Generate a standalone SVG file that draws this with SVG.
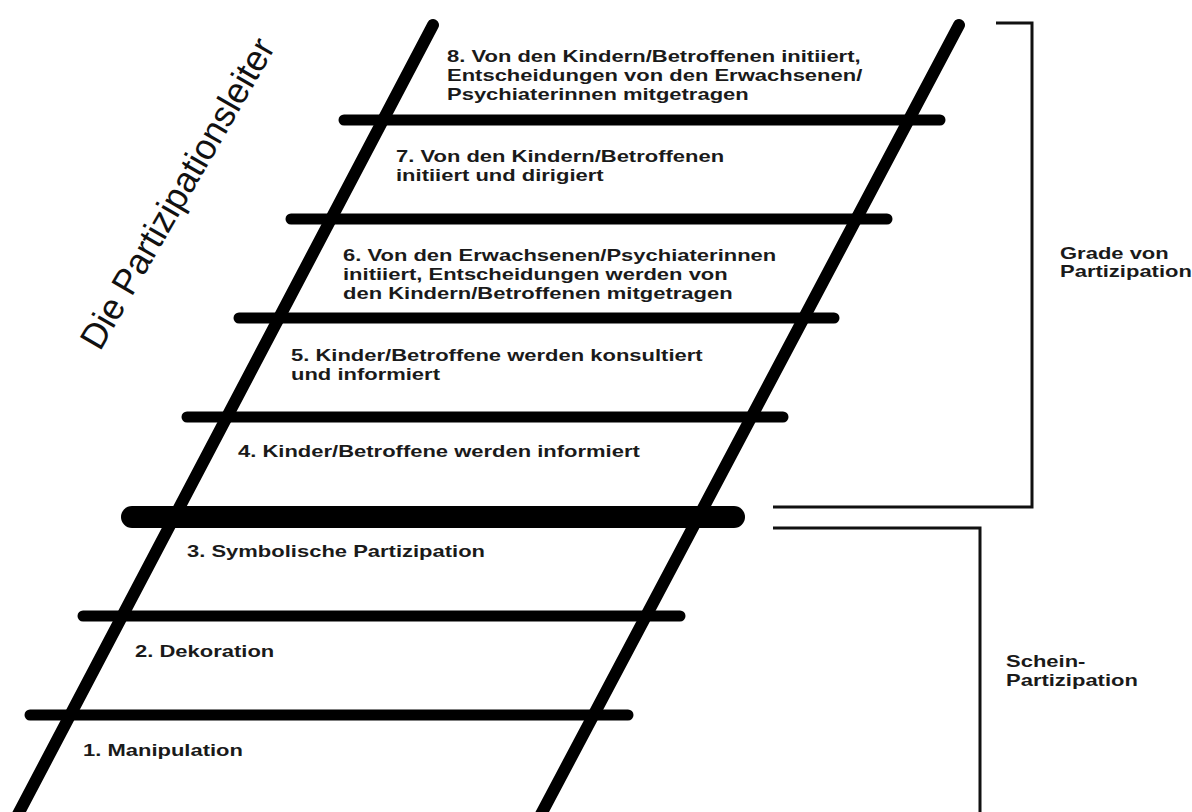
<svg xmlns="http://www.w3.org/2000/svg" width="1192" height="812" viewBox="0 0 1192 812">
<style>
.rail{stroke:#000;stroke-width:12;stroke-linecap:round;fill:none}
.rung{stroke:#000;stroke-width:11;stroke-linecap:round;fill:none}
.rung-thick{stroke:#000;stroke-width:22;stroke-linecap:round;fill:none}
.br{stroke:#111;stroke-width:3;fill:none}
.t{font-family:"Liberation Sans",Arial,sans-serif;font-weight:bold;font-size:16px;fill:#1a1a1a}
.title{font-family:"Liberation Sans",Arial,sans-serif;font-size:36px;fill:#111}
</style>
<rect width="1192" height="812" fill="#fff"/>
<g id="ladder">
<line class="rail" x1="433" y1="25" x2="15" y2="820"/>
<line class="rail" x1="959" y1="25" x2="538" y2="820"/>
<line class="rung" x1="344" y1="120" x2="940" y2="120"/>
<line class="rung" x1="291" y1="219" x2="887" y2="219"/>
<line class="rung" x1="239" y1="318" x2="834" y2="318"/>
<line class="rung" x1="187" y1="417" x2="783" y2="417"/>
<line class="rung-thick" x1="132" y1="517" x2="734" y2="517"/>
<line class="rung" x1="83" y1="616" x2="680" y2="616"/>
<line class="rung" x1="30" y1="715" x2="628" y2="715"/>
</g>
<g id="connectors">
<path class="br" d="M996,23 H1032 V507 H773"/>
<path class="br" d="M773,528 H980 V812"/>
</g>
<g id="title" transform="translate(100,352) rotate(-60)">
<text class="title" x="0" y="0" textLength="352" lengthAdjust="spacingAndGlyphs">Die Partizipationsleiter</text>
</g>
<g id="n8" transform="translate(447,62) scale(1.375,1)">
<text class="t"><tspan x="0" y="0">8. Von den Kindern/Betroffenen initiiert,</tspan><tspan x="0" y="19">Entscheidungen von den Erwachsenen/</tspan><tspan x="0" y="38">Psychiaterinnen mitgetragen</tspan></text>
</g>
<g id="n7" transform="translate(396,162) scale(1.375,1)">
<text class="t"><tspan x="0" y="0">7. Von den Kindern/Betroffenen</tspan><tspan x="0" y="19">initiiert und dirigiert</tspan></text>
</g>
<g id="n6" transform="translate(343,261) scale(1.375,1)">
<text class="t"><tspan x="0" y="0">6. Von den Erwachsenen/Psychiaterinnen</tspan><tspan x="0" y="19">initiiert, Entscheidungen werden von</tspan><tspan x="0" y="38">den Kindern/Betroffenen mitgetragen</tspan></text>
</g>
<g id="n5" transform="translate(291,361) scale(1.375,1)">
<text class="t"><tspan x="0" y="0">5. Kinder/Betroffene werden konsultiert</tspan><tspan x="0" y="19">und informiert</tspan></text>
</g>
<g id="n4" transform="translate(238,457) scale(1.375,1)">
<text class="t">4. Kinder/Betroffene werden informiert</text>
</g>
<g id="n3" transform="translate(187,557) scale(1.375,1)">
<text class="t">3. Symbolische Partizipation</text>
</g>
<g id="n2" transform="translate(135,657) scale(1.375,1)">
<text class="t">2. Dekoration</text>
</g>
<g id="n1" transform="translate(83,756) scale(1.375,1)">
<text class="t">1. Manipulation</text>
</g>
<g id="grade" transform="translate(1060,259) scale(1.375,1)">
<text class="t"><tspan x="0" y="0">Grade von</tspan><tspan x="0" y="18">Partizipation</tspan></text>
</g>
<g id="schein" transform="translate(1006,667) scale(1.375,1)">
<text class="t"><tspan x="0" y="0">Schein-</tspan><tspan x="0" y="19">Partizipation</tspan></text>
</g>
</svg>
